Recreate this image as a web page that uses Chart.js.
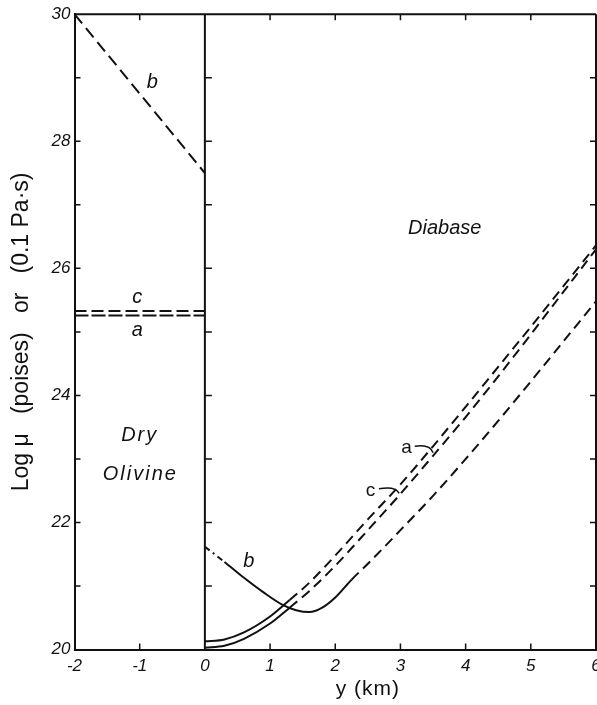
<!DOCTYPE html>
<html>
<head>
<meta charset="utf-8">
<script src="https://cdn.jsdelivr.net/npm/chart.js@4"></script>
<style>
  html, body { margin: 0; padding: 0; background: #fff; }
  #wrap { width: 597px; height: 705px; }
</style>
</head>
<body>
<div id="wrap"><canvas id="myChart" width="597" height="705"></canvas></div>
<script>
// tick labels
var xTickLabels = ['-2', '-1', '0', '1', '2', '3', '4', '5', '6'];
var yTickLabels = ['20', '22', '24', '26', '28', '30'];

// Dry olivine panel (y from -2 to 0)
var olivineX = [-2, 0];
var olivineA = [25.26, 25.26];
var olivineB = [30, 27.5];
var olivineC = [25.33, 25.33];

// Diabase panel (y from 0 to 6)
var diabaseX = [0, 0.3, 0.6, 1.0, 1.3, 1.6, 2.0, 2.5, 3.0, 3.5, 4.0, 4.5, 5.0, 5.5, 6.0];
var diabaseA = [20.13, 20.16, 20.27, 20.52, 20.78, 21.05, 21.48, 22.05, 22.6, 23.2, 23.82, 24.45, 25.08, 25.72, 26.36];
var diabaseC = [20.03, 20.06, 20.17, 20.41, 20.66, 20.92, 21.32, 21.88, 22.45, 23.05, 23.66, 24.3, 24.96, 25.63, 26.3];
var diabaseBX = [0, 0.3, 0.6, 0.9, 1.2, 1.4, 1.6, 1.8, 2.0, 2.25, 2.5, 3.0, 3.5, 4.0, 4.5, 5.0, 5.5, 6.0];
var diabaseB = [21.62, 21.38, 21.13, 20.9, 20.7, 20.62, 20.59, 20.66, 20.82, 21.1, 21.35, 21.88, 22.42, 23.0, 23.6, 24.22, 24.85, 25.48];

var ink = '#111';
var dash = [10, 6];
var fam = '"Liberation Sans", Arial, sans-serif';

function pts(xs, ys) {
  return xs.map(function (x, i) { return { x: x, y: ys[i] }; });
}

function curve(data, extra) {
  var ds = {
    data: data,
    borderColor: ink,
    borderWidth: 2,
    pointRadius: 0,
    fill: false,
    cubicInterpolationMode: 'monotone'
  };
  return Object.assign(ds, extra || {});
}

// text and frame details drawn on top, placed with the chart's scales
var decor = {
  id: 'decor',
  afterDatasetsDraw: function (chart) {
    var c = chart.ctx, xs = chart.scales.x, ys = chart.scales.y;
    var a = chart.chartArea;
    var X = function (v) { return xs.getPixelForValue(v); };
    var Y = function (v) { return ys.getPixelForValue(v); };
    c.save();
    c.strokeStyle = ink;
    c.fillStyle = ink;
    c.lineWidth = 2;
    // top, right and panel divider
    c.beginPath();
    c.moveTo(a.left, a.top); c.lineTo(a.right, a.top);
    c.moveTo(a.right, a.top); c.lineTo(a.right, a.bottom);
    c.moveTo(X(0), a.top); c.lineTo(X(0), a.bottom);
    c.stroke();
    // small tick marks pointing inward
    c.lineWidth = 1.5;
    c.beginPath();
    for (var v = 21; v < 30; v++) {
      c.moveTo(a.left, Y(v)); c.lineTo(a.left + 6, Y(v));
      c.moveTo(X(0), Y(v)); c.lineTo(X(0) + 7, Y(v));
      c.moveTo(a.right, Y(v)); c.lineTo(a.right - 6, Y(v));
    }
    for (var u = -1; u < 6; u++) {
      if (u === 0) continue;
      c.moveTo(X(u), a.bottom); c.lineTo(X(u), a.bottom - 6);
      c.moveTo(X(u), a.top); c.lineTo(X(u), a.top + 6);
    }
    c.stroke();

    c.textAlign = 'center';
    c.textBaseline = 'middle';
    c.letterSpacing = '1px';
    c.font = 'italic 20px ' + fam;
    c.fillText('b', X(-0.8), Y(28.92));
    c.fillText('c', X(-1.03), Y(25.55));
    c.fillText('a', X(-1.03), Y(25.02));
    c.fillText('b', X(0.68), Y(21.38));
    c.font = '19px ' + fam;
    c.fillText('a', X(3.1), Y(23.17));
    c.fillText('c', X(2.55), Y(22.5));
    c.letterSpacing = '0px';
    c.font = 'italic 20px ' + fam;
    c.fillText('Diabase', X(3.68), Y(26.63));
    c.letterSpacing = '2px';
    c.fillText('Dry', X(-1.0), Y(23.37));
    c.fillText('Olivine', X(-0.99), Y(22.76));

    // pointers from the a and c labels
    c.lineWidth = 1.5;
    c.beginPath();
    c.moveTo(X(3.22), Y(23.2));
    c.quadraticCurveTo(X(3.45), Y(23.24), X(3.5), Y(23.1));
    c.moveTo(X(2.67), Y(22.53));
    c.quadraticCurveTo(X(2.92), Y(22.58), X(2.98), Y(22.46));
    c.stroke();

    c.letterSpacing = '1px';
    c.font = '21px ' + fam;
    c.fillText('y (km)', X(2.5), 689);
    c.restore();
  }
};

new Chart(document.getElementById('myChart'), {
  type: 'line',
  data: {
    datasets: [
      curve(pts(olivineX, olivineB), { borderDash: [12, 6] }),
      curve(pts(olivineX, olivineC), { borderDash: [12, 5] }),
      curve(pts(olivineX, olivineA), { borderDash: [14, 3] }),
      curve(pts(diabaseX, diabaseA), {
        segment: { borderDash: function (ctx) { return ctx.p0.parsed.x >= 1.3 ? dash : undefined; } }
      }),
      curve(pts(diabaseX, diabaseC), {
        segment: { borderDash: function (ctx) { return ctx.p0.parsed.x >= 1.3 ? dash : undefined; } }
      }),
      curve(pts(diabaseBX, diabaseB), {
        segment: {
          borderDash: function (ctx) {
            if (ctx.p0.parsed.x < 0.3) return [6, 4, 2, 4];
            return ctx.p0.parsed.x >= 2.25 ? dash : undefined;
          }
        }
      })
    ]
  },
  options: {
    responsive: false,
    animation: false,
    layout: { autoPadding: false, padding: { left: 8, right: 1, top: 13, bottom: 23 } },
    plugins: { legend: { display: false }, tooltip: { enabled: false } },
    scales: {
      x: {
        type: 'linear',
        min: -2,
        max: 6,
        grid: { display: false, drawTicks: false },
        border: { display: true, color: ink, width: 2 },
        // let the last label run off the edge, as in the original figure
        afterFit: function (s) { s.paddingRight = 0; },
        ticks: {
          stepSize: 1,
          padding: 6,
          color: ink,
          font: { family: fam, size: 17, style: 'italic' },
          callback: function (v) { return xTickLabels[v + 2]; }
        }
      },
      y: {
        min: 20,
        max: 30,
        grid: { display: false, drawTicks: false },
        border: { display: true, color: ink, width: 2 },
        title: {
          display: true,
          text: 'Log μ   (poises)   or   (0.1 Pa·s)',
          color: ink,
          padding: { top: 0, bottom: 12 },
          font: { family: fam, size: 23 }
        },
        ticks: {
          stepSize: 1,
          padding: 4,
          color: ink,
          font: { family: fam, size: 17, style: 'italic' },
          callback: function (v) {
            var s = String(v);
            return yTickLabels.indexOf(s) >= 0 ? s : '';
          }
        }
      }
    }
  },
  plugins: [decor]
});
</script>
</body>
</html>
